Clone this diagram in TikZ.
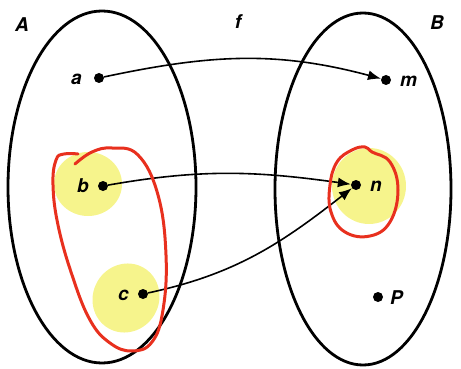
\documentclass[tikz,border=0pt]{standalone}
\usepackage{fontspec}
\setsansfont{TeX Gyre Heros}
\usetikzlibrary{arrows.meta}
\definecolor{hl}{RGB}{246,244,140}
\definecolor{redink}{RGB}{232,48,30}
\begin{document}
\begin{tikzpicture}[x=1pt,y=-1pt,
  setline/.style={line width=2.8pt},
  dotnode/.style={circle,fill=black,inner sep=0pt,minimum size=10pt},
  lbl/.style={font=\sffamily\itshape\bfseries\fontsize{19}{19}\selectfont,inner sep=0pt},
  arr/.style={line width=1.6pt,-{Latex[length=13pt,width=10pt]}},
  hilite/.style={fill=hl,draw=none},
  loop/.style={draw=redink,line width=3pt,line cap=round}]
\useasboundingbox (0,0) rectangle (461,369);
% highlights
\fill[hilite] (88,184) ellipse [x radius=34, y radius=32];
\fill[hilite,rotate around={-30:(126,298)}] (126,298) ellipse [x radius=33, y radius=35];
\fill[hilite] (369,186) ellipse [x radius=37, y radius=38];
% sets
\draw[setline] (102,187) ellipse [x radius=94, y radius=176];
\draw[setline] (363,189) ellipse [x radius=88, y radius=176];
% labels
\node[lbl] (A) at (22,25) {A};
\node[lbl] (f) at (238,22) {f};
\node[lbl] (B) at (437,23) {B};
% points
\node[dotnode] (a) at (99,78) {};
\node[dotnode] (b) at (103,186) {};
\node[dotnode] (c) at (143,294) {};
\node[dotnode] (m) at (386,80) {};
\node[dotnode] (n) at (356,185) {};
\node[dotnode] (p) at (378,297) {};
\node[lbl,anchor=east] (la) at (82,79) {a};
\node[lbl,anchor=east] (lb) at (89,186) {b};
\node[lbl,anchor=east] (lc) at (129,295) {c};
\node[lbl,anchor=west] (lm) at (400,81) {m};
\node[lbl,anchor=west] (ln) at (370,186) {n};
\node[lbl,anchor=west] (lp) at (390,298) {P};
% arrows
\draw[arr] (a) to[out=12,in=165] (m);
\draw[arr] (b) to[out=10,in=172] (n);
\draw[arr] (c) to[out=12,in=218] (n);
% red loops
\draw[loop] plot[smooth,tension=0.7] coordinates {(75,164) (92,152) (112,148) (138,155) (158,195) (166,255) (163,310) (152,342) (132,351) (110,343) (90,320) (72,275) (58,225) (53,185) (56,160) (64,154) (78,154)};
\draw[loop] plot[smooth cycle,tension=0.7] coordinates {(352,150) (365,147) (372,152) (390,162) (398,190) (390,222) (370,236) (345,232) (331,212) (330,185) (337,162)};
\end{tikzpicture}
\end{document}
